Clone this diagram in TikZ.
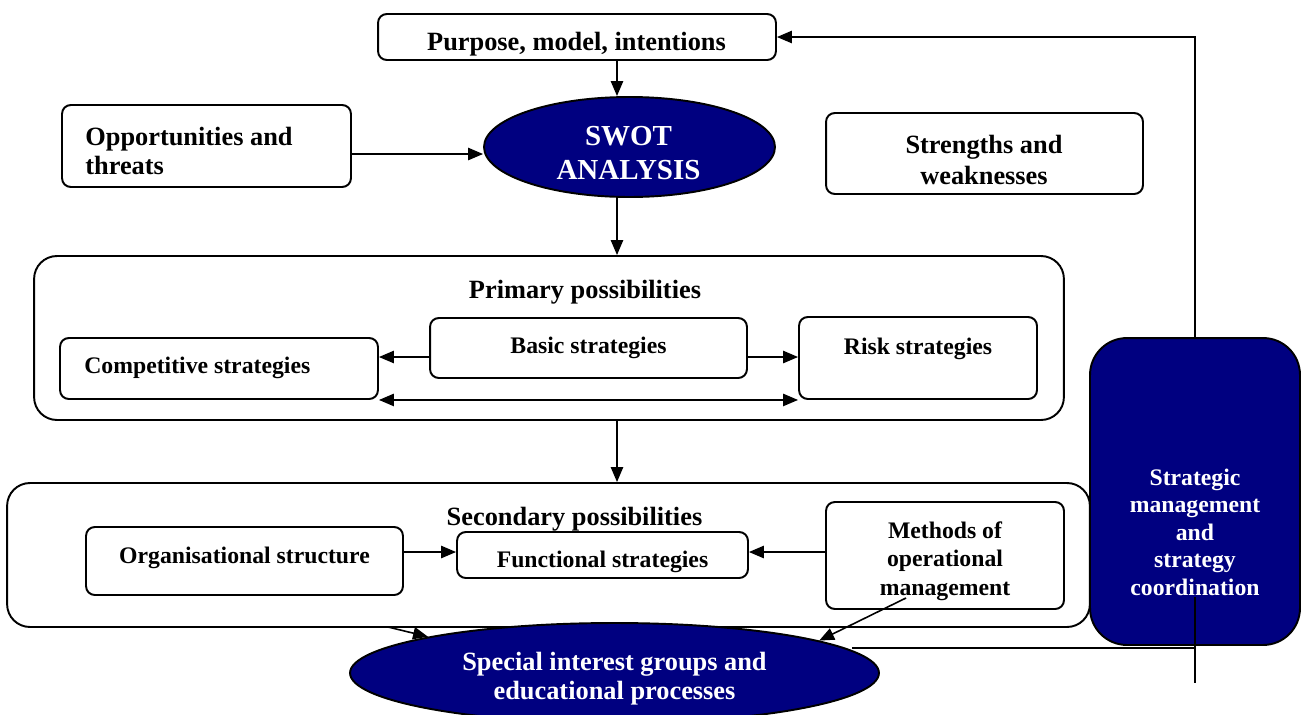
\documentclass[tikz,border=0pt]{standalone}
\usepackage{fontspec}
\setmainfont{Liberation Serif}
\usetikzlibrary{shapes.geometric,arrows.meta}
\definecolor{swotblue}{RGB}{0,0,128}

\begin{document}
\begin{tikzpicture}[x=0.02cm,y=-0.02cm,
  box/.style={draw,line width=1.1pt,rounded corners=5pt,fill=white,inner sep=0pt},
  panel/.style={draw,line width=1.1pt,rounded corners=13pt,fill=white,inner sep=0pt},
  oval/.style={ellipse,draw,line width=1.1pt,fill=swotblue,inner sep=0pt},
  bigtxt/.style={font=\fontsize{15}{16.5}\selectfont\bfseries,inner sep=0pt,anchor=base,align=center},
  smalltxt/.style={font=\fontsize{13.5}{15.8}\selectfont\bfseries,inner sep=0pt,anchor=base,align=center},
  link/.style={line width=0.9pt},
  arr/.style={link,-{Triangle[length=8.5pt,width=7pt]}},
  dblarr/.style={link,{Triangle[length=8.5pt,width=7pt]}-{Triangle[length=8.5pt,width=7pt]}}]

\useasboundingbox (0,0) rectangle (1302,714);
\coordinate (axis) at (617,0);

% top row
\node[box,minimum width=7.96cm,minimum height=0.92cm] (purpose) at (577,37) {};
\node[bigtxt] (purposelbl) at (576.5,50) {Purpose, model, intentions};
\node[oval,minimum width=5.82cm,minimum height=2cm] (swot) at (629.5,147) {};
\node[bigtxt,white,font=\fontsize{16.5}{18.8}\selectfont\bfseries] (swotlbl) at (628.5,179) {SWOT\\ANALYSIS};
\node[box,minimum width=5.78cm,minimum height=1.64cm] (opp) at (206.5,146) {};
\node[bigtxt,anchor=base west,align=left] (opplbl) at (85,174) {Opportunities and\\threats};
\node[box,minimum width=6.34cm,minimum height=1.62cm] (strength) at (984.5,153.5) {};
\node[bigtxt,font=\fontsize{15}{17.6}\selectfont\bfseries] (strengthlbl) at (984,184) {Strengths and\\weaknesses};

% primary possibilities
\node[panel,minimum width=20.6cm,minimum height=3.28cm] (primary) at (549,338) {};
\node[bigtxt] (primarylbl) at (585,298) {Primary possibilities};
\node[box,minimum width=6.36cm,minimum height=1.22cm] (comp) at (219,368.5) {};
\node[smalltxt,anchor=base west] (complbl) at (84,373) {Competitive strategies};
\node[box,minimum width=6.34cm,minimum height=1.2cm] (basic) at (588.5,348) {};
\node[smalltxt] (basiclbl) at (588.5,353) {Basic strategies};
\node[box,minimum width=4.76cm,minimum height=1.64cm] (risk) at (918,358) {};
\node[smalltxt] (risklbl) at (918,354) {Risk strategies};

% secondary possibilities
\node[panel,minimum width=21.66cm,minimum height=2.88cm] (secondary) at (548.5,555) {};
\node[bigtxt] (secondarylbl) at (574.5,525) {Secondary possibilities};
\node[box,minimum width=6.34cm,minimum height=1.36cm] (org) at (244.5,561) {};
\node[smalltxt] (orglbl) at (244.5,563) {Organisational structure};
\node[box,minimum width=5.82cm,minimum height=0.92cm] (func) at (602.5,555) {};
\node[smalltxt] (funclbl) at (602.5,567) {Functional strategies};
\node[box,minimum width=4.76cm,minimum height=2.14cm] (methods) at (945,555.5) {};
\node[smalltxt,font=\fontsize{13.5}{16}\selectfont\bfseries] (methodslbl) at (945,595) {Methods of\\operational\\management};

% bottom and side
\node[oval,minimum width=10.58cm,minimum height=2cm] (special) at (614.5,673) {};
\node[bigtxt,white] (speciallbl) at (614.5,699) {Special interest groups and\\educational processes};
\node[draw,line width=1.1pt,rounded corners=21pt,fill=swotblue,minimum width=4.2cm,minimum height=6.14cm] (strat) at (1195,491.5) {};
\node[smalltxt,white,font=\fontsize{13.5}{15.6}\selectfont\bfseries] (stratlbl) at (1195,595) {Strategic\\management\\and\\strategy\\coordination};

% connectors
\coordinate (oppout) at ([yshift=-0.16cm]opp.east);
\coordinate (basicmid) at ([yshift=-0.18cm]basic.center);
\coordinate (funcmid) at ([yshift=0.06cm]func.center);
\coordinate (secout) at (388,627);
\coordinate (methout) at (906,598);
\coordinate (feedin) at (1195,597);
\coordinate (feedend) at (1195,683);
\coordinate (specout) at (852,648);

\draw[arr] (purpose.south -| axis) -- (swot.north -| axis);
\draw[arr] (oppout) -- (oppout -| swot.west);
\draw[arr] (swot.south -| axis) -- (primary.north -| axis);
\draw[arr] (basicmid -| basic.west) -- (basicmid -| comp.east);
\draw[arr] (basicmid -| basic.east) -- (basicmid -| risk.west);
\draw[dblarr] (comp.south east) -- (risk.south west);
\draw[arr] (primary.south -| axis) -- (secondary.north -| axis);
\draw[arr] (funcmid -| org.east) -- (funcmid -| func.west);
\draw[arr] (funcmid -| methods.west) -- (funcmid -| func.east);
\draw[arr] (secout) -- (special.169);
\draw[arr] (methout) -- (special.9);
\draw[arr] (strat.north) |- (purpose.east);
\draw[link] (feedin) -- (feedend);
\draw[link] (specout) -- (specout -| feedend);
\end{tikzpicture}
\end{document}
